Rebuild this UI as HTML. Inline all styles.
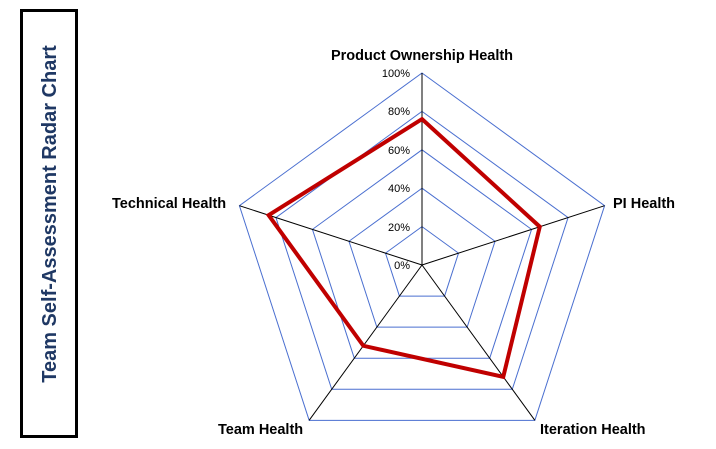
<!DOCTYPE html>
<html><head><meta charset="utf-8"><style>
body{margin:0;background:#fff;width:716px;height:444px;overflow:hidden;font-family:"Liberation Sans",Arial,sans-serif}
</style></head><body>
<svg id="s" width="716" height="444" xmlns="http://www.w3.org/2000/svg">
<rect x="21.5" y="10.5" width="55" height="426" fill="none" stroke="#000" stroke-width="3"/>
<text transform="translate(56,214) rotate(-90)" text-anchor="middle" font-family="Liberation Sans, Arial, sans-serif" font-weight="bold" font-size="20" fill="#1f3864">Team Self-Assessment Radar Chart</text>
<g id="g"></g>
<g font-family="Liberation Sans, Arial, sans-serif" font-weight="bold" font-size="14.5" fill="#000">
<text x="422" y="60" text-anchor="middle">Product Ownership Health</text>
<text x="613" y="208">PI Health</text>
<text x="540" y="434">Iteration Health</text>
<text x="218" y="434">Team Health</text>
<text x="112" y="208">Technical Health</text>
</g>
<g font-family="Liberation Sans, Arial, sans-serif" font-size="11" fill="#000" text-anchor="end">
<text x="410" y="77">100%</text>
<text x="410" y="115">80%</text>
<text x="410" y="154">60%</text>
<text x="410" y="192">40%</text>
<text x="410" y="231">20%</text>
<text x="410" y="269">0%</text>
</g>
</svg>
<script>
var cx=422,cy=265,R=192,g=document.getElementById('g'),h='';
function pt(i,r){var a=(-90+72*i)*Math.PI/180;return [cx+r*Math.cos(a),cy+r*Math.sin(a)];}
for(var k=1;k<=5;k++){var p=[];for(var i=0;i<5;i++)p.push(pt(i,R*k/5).join(','));h+='<polygon points="'+p.join(' ')+'" fill="none" stroke="#4a6fd0" stroke-width="1"/>';}
for(var i=0;i<5;i++){var q=pt(i,R);h+='<line x1="'+cx+'" y1="'+cy+'" x2="'+q[0]+'" y2="'+q[1]+'" stroke="#000" stroke-width="1"/>';}
var d=[0.76,0.645,0.72,0.52,0.84],p=[];for(var i=0;i<5;i++)p.push(pt(i,R*d[i]).join(','));
h+='<polygon points="'+p.join(' ')+'" fill="none" stroke="#c00000" stroke-width="4" stroke-linejoin="miter"/>';
g.innerHTML=h;
</script>
</body></html>
